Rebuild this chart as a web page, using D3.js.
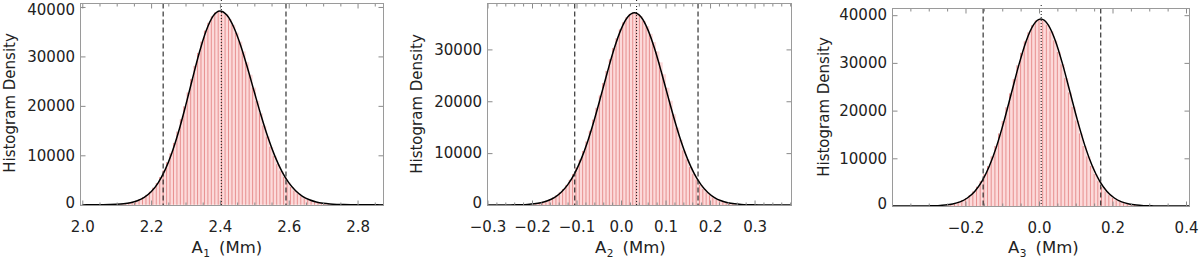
<!DOCTYPE html>
<html><head><meta charset="utf-8">
<script src="https://cdn.jsdelivr.net/npm/d3@7"></script>
<style>
html,body{margin:0;padding:0;background:#fff;overflow:hidden;}
svg{display:block;font-family:"DejaVu Sans",sans-serif;}
</style></head><body>
<svg id="chart" width="1200" height="257"></svg>
<script>
// ---------- Panel 1 : A1 ----------
const a1CurveX = [2.00,2.02,2.04,2.06,2.08,2.10,2.12,2.14,2.16,2.18,2.20,2.22,2.24,2.26,2.28,2.30,2.32,2.34,2.36,2.38,2.40,2.42,2.44,2.46,2.48,2.50,2.52,2.54,2.56,2.58,2.60,2.62,2.64,2.66,2.68,2.70,2.72,2.74,2.76,2.78,2.80,2.82,2.84,2.86,2.88];
const a1CurveY = [1,2,6,16,39,89,196,406,800,1490,2620,4390,6950,10420,14810,19940,25430,30730,35180,38150,39200,38360,35940,32250,27700,22790,17950,13540,9780,6760,4480,2840,1720,1000,557,297,151,74,35,15,7,3,1,0,0];
const a1BinX = [2.10,2.11,2.12,2.13,2.14,2.15,2.16,2.17,2.18,2.19,2.20,2.21,2.22,2.23,2.24,2.25,2.26,2.27,2.28,2.29,2.30,2.31,2.32,2.33,2.34,2.35,2.36,2.37,2.38,2.39,2.40,2.41,2.42,2.43,2.44,2.45,2.46,2.47,2.48,2.49,2.50,2.51,2.52,2.53,2.54,2.55,2.56,2.57,2.58,2.59,2.60,2.61,2.62,2.63,2.64,2.65,2.66,2.67,2.68,2.69,2.70,2.71,2.72,2.73,2.74,2.75];
const a1BinY = [90,135,200,290,410,570,800,1100,1500,2000,2650,3450,4400,5600,6950,8600,10400,12500,14800,17300,19900,22700,25400,28100,30700,33000,35200,36800,38100,38900,39200,39000,38500,37500,36400,34800,33000,31000,28800,26300,23700,21000,18500,16000,13800,11700,9900,8200,6800,5600,4500,3600,2850,2250,1730,1320,1000,750,560,410,300,215,150,105,75,50];
const a1BinWidth = 0.01;
const a1Bounds = [2.235, 2.592];
const a1Median = [2.404];
const a1XTicks = [2.0,2.2,2.4,2.6,2.8];
const a1XTickLabels = ["2.0","2.2","2.4","2.6","2.8"];
const a1XMinor = [2.05,2.10,2.15,2.25,2.30,2.35,2.45,2.50,2.55,2.65,2.70,2.75,2.85];
const a1YTicks = [0,10000,20000,30000,40000];
const a1YTickLabels = ["0","10000","20000","30000","40000"];

// ---------- Panel 2 : A2 ----------
const a2CurveX = [-0.300,-0.285,-0.270,-0.255,-0.240,-0.225,-0.210,-0.195,-0.180,-0.165,-0.150,-0.135,-0.120,-0.105,-0.090,-0.075,-0.060,-0.045,-0.030,-0.015,0.000,0.015,0.030,0.045,0.060,0.075,0.090,0.105,0.120,0.135,0.150,0.165,0.180,0.195,0.210,0.225,0.240,0.255,0.270,0.285,0.300,0.315,0.330,0.345,0.360,0.375,0.390];
const a2CurveY = [1,2,4,11,25,55,115,231,445,818,1440,2420,3880,5960,8740,12260,16450,21080,25830,30250,33860,36230,37060,36230,33860,30250,25830,21080,16450,12260,8740,5960,3880,2420,1440,818,445,231,115,55,25,11,4,2,1,0,0];
const a2BinX = [-0.1950,-0.1875,-0.1800,-0.1725,-0.1650,-0.1575,-0.1500,-0.1425,-0.1350,-0.1275,-0.1200,-0.1125,-0.1050,-0.0975,-0.0900,-0.0825,-0.0750,-0.0675,-0.0600,-0.0525,-0.0450,-0.0375,-0.0300,-0.0225,-0.0150,-0.0075,0.0000,0.0075,0.0150,0.0225,0.0300,0.0375,0.0450,0.0525,0.0600,0.0675,0.0750,0.0825,0.0900,0.0975,0.1050,0.1125,0.1200,0.1275,0.1350,0.1425,0.1500,0.1575,0.1650,0.1725,0.1800,0.1875,0.1950,0.2025,0.2100,0.2175,0.2250,0.2325,0.2400,0.2475,0.2550];
const a2BinY = [235,330,450,610,820,1090,1440,1880,2420,3080,3880,4850,5960,7250,8740,10400,12250,14300,16450,18750,21100,23500,25850,28100,30250,32150,33850,35200,36200,36850,37050,36900,36400,35500,34500,33000,31400,29600,27500,25200,22600,20100,17500,14900,12600,10500,8800,7300,5950,4850,3880,3080,2420,1880,1440,1090,820,610,445,320,230];
const a2BinWidth = 0.0075;
const a2Bounds = [-0.104, 0.173];
const a2Median = [0.035];
const a2XTicks = [-0.3,-0.2,-0.1,0.0,0.1,0.2,0.3];
const a2XTickLabels = ["\u22120.3","\u22120.2","\u22120.1","0.0","0.1","0.2","0.3"];
const a2XMinor = [-0.28,-0.26,-0.24,-0.22,-0.18,-0.16,-0.14,-0.12,-0.08,-0.06,-0.04,-0.02,0.02,0.04,0.06,0.08,0.12,0.14,0.16,0.18,0.22,0.24,0.26,0.28,0.32,0.34,0.36,0.38];
const a2YTicks = [0,10000,20000,30000];
const a2YTickLabels = ["0","10000","20000","30000"];

// ---------- Panel 3 : A3 ----------
const a3CurveX = [-0.415,-0.395,-0.375,-0.355,-0.335,-0.315,-0.295,-0.275,-0.255,-0.235,-0.215,-0.195,-0.175,-0.155,-0.135,-0.115,-0.095,-0.075,-0.055,-0.035,-0.015,0.005,0.025,0.045,0.065,0.085,0.105,0.125,0.145,0.165,0.185,0.205,0.225,0.245,0.265,0.285,0.305,0.325,0.345,0.365,0.385,0.405,0.425];
const a3CurveY = [0,0,0,1,4,12,33,82,191,420,868,1680,3060,5220,8380,12610,17840,23680,29530,34560,37980,39200,37980,34560,29530,23680,17840,12610,8380,5220,3060,1680,868,420,191,82,33,12,4,1,0,0,0];
const a3BinX = [-0.245,-0.235,-0.225,-0.215,-0.205,-0.195,-0.185,-0.175,-0.165,-0.155,-0.145,-0.135,-0.125,-0.115,-0.105,-0.095,-0.085,-0.075,-0.065,-0.055,-0.045,-0.035,-0.025,-0.015,-0.005,0.005,0.015,0.025,0.035,0.045,0.055,0.065,0.075,0.085,0.095,0.105,0.115,0.125,0.135,0.145,0.155,0.165,0.175,0.185,0.195,0.205,0.215,0.225,0.235,0.245,0.255,0.265];
const a3BinY = [290,420,610,870,1220,1680,2280,3060,4050,5220,6700,8380,10400,12600,15200,17800,20700,23600,26600,29500,32100,34500,36400,37900,38900,39200,38900,38000,36600,34700,32300,29700,26800,23800,20800,17900,15200,12600,10400,8400,6700,5200,4000,3050,2280,1680,1210,870,610,420,285,190];
const a3BinWidth = 0.01;
const a3Bounds = [-0.152, 0.168];
const a3Median = [0.006];
const a3XTicks = [-0.2,0.0,0.2,0.4];
const a3XTickLabels = ["\u22120.2","0.0","0.2","0.4"];
const a3XMinor = [-0.35,-0.30,-0.25,-0.15,-0.10,-0.05,0.05,0.10,0.15,0.25,0.30,0.35];
const a3YTicks = [0,10000,20000,30000,40000];
const a3YTickLabels = ["0","10000","20000","30000","40000"];

const yTitle = "Histogram Density";
const xTitleSubs = ["1","2","3"];
const xTitleUnit = "(Mm)";

// ---------- drawing ----------
const svg = d3.select("#chart");
const FRAME = "#9a9a9a", TICK = "#8a8a8a", TXT = "#222";

const panels = [
  {id:1, curveX:a1CurveX, curveY:a1CurveY, binX:a1BinX, binY:a1BinY, bw:a1BinWidth, bounds:a1Bounds, median:a1Median,
   xTicks:a1XTicks, xLabels:a1XTickLabels, xMinor:a1XMinor, yTicks:a1YTicks, yLabels:a1YTickLabels, sub:xTitleSubs[0],
   xDomain:[1.9948,2.8754], yDomain:[-150,40700], left:80.5, right:383.5, top:3.5, bottom:205.5,
   yTitleX:14.5, yTitleY:103, xTitleX:191.5},
  {id:2, curveX:a2CurveX, curveY:a2CurveY, binX:a2BinX, binY:a2BinY, bw:a2BinWidth, bounds:a2Bounds, median:a2Median,
   xTicks:a2XTicks, xLabels:a2XTickLabels, xMinor:a2XMinor, yTicks:a2YTicks, yLabels:a2YTickLabels, sub:xTitleSubs[1],
   xDomain:[-0.3,0.383], yDomain:[-100,38850], left:487.5, right:791.5, top:3.5, bottom:205.5,
   yTitleX:421.5, yTitleY:104, xTitleX:595},
  {id:3, curveX:a3CurveX, curveY:a3CurveY, binX:a3BinX, binY:a3BinY, bw:a3BinWidth, bounds:a3Bounds, median:a3Median,
   xTicks:a3XTicks, xLabels:a3XTickLabels, xMinor:a3XMinor, yTicks:a3YTicks, yLabels:a3YTickLabels, sub:xTitleSubs[2],
   xDomain:[-0.3986,0.4095], yDomain:[-100,41400], left:892.5, right:1189.5, top:8.5, bottom:206.5,
   yTitleX:829, yTitleY:107, xTitleX:1008}
];

panels.forEach(p => {
  const x = d3.scaleLinear().domain(p.xDomain).range([p.left, p.right]);
  const y = d3.scaleLinear().domain(p.yDomain).range([p.bottom, p.top]);
  const g = svg.append("g");
  const clipId = "clip" + p.id;
  svg.append("clipPath").attr("id", clipId).append("rect")
    .attr("x", p.left).attr("y", p.top).attr("width", p.right - p.left).attr("height", p.bottom - p.top);

  const bins = d3.zip(p.binX, p.binY);
  const plot = g.append("g").attr("clip-path", `url(#${clipId})`);
  plot.append("g").selectAll("rect").data(bins).join("rect")
    .attr("x", d => x(d[0] - p.bw / 2))
    .attr("width", d => x(d[0] + p.bw / 2) - x(d[0] - p.bw / 2))
    .attr("y", d => y(d[1]))
    .attr("height", d => y(0) - y(d[1]))
    .attr("fill", "#fcdada");
  plot.append("g").selectAll("line").data(bins).join("line")
    .attr("x1", d => x(d[0] - p.bw / 2)).attr("x2", d => x(d[0] - p.bw / 2))
    .attr("y1", y(0)).attr("y2", d => y(d[1]))
    .attr("stroke", "#e48686").attr("stroke-width", 0.9);

  // bounds (dashed) and median (dotted)
  g.append("g").selectAll("line").data(p.bounds).join("line")
    .attr("x1", d => x(d)).attr("x2", d => x(d))
    .attr("y1", p.top).attr("y2", p.bottom)
    .attr("stroke", "#222").attr("stroke-width", 1.1).attr("stroke-dasharray", "5,3");
  g.append("g").selectAll("line").data(p.median).join("line")
    .attr("x1", d => x(d)).attr("x2", d => x(d))
    .attr("y1", p.top - 3.5).attr("y2", p.bottom)
    .attr("stroke", "#111").attr("stroke-width", 1).attr("stroke-dasharray", "1,2");

  // fitted curve
  const line = d3.line().x(d => x(d[0])).y(d => y(d[1])).curve(d3.curveMonotoneX);
  plot.append("path").datum(d3.zip(p.curveX, p.curveY))
    .attr("d", line).attr("fill", "none").attr("stroke", "#000").attr("stroke-width", 1.5);

  // axes (inward ticks on all four sides)
  const styleAxis = sel => {
    sel.select(".domain").remove();
    sel.selectAll(".tick line").attr("stroke", TICK);
    sel.selectAll("text").attr("fill", TXT).style("font-size", "15px").style("font-family", '"DejaVu Sans",sans-serif');
  };
  const inRange = v => v >= Math.min(...p.xDomain) - 0.005 && v <= Math.max(...p.xDomain);
  const xT = p.xTicks.filter(inRange);
  const xLab = p.xTicks.map((t, i) => [t, p.xLabels[i]]);
  g.append("g").attr("transform", `translate(0,${p.bottom})`)
    .call(d3.axisBottom(x).tickValues(xT).tickSize(-5).tickPadding(16.3)
      .tickFormat(t => (xLab.find(e => e[0] === t) || [0, ""])[1]))
    .call(styleAxis);
  g.append("g").attr("transform", `translate(0,${p.bottom})`)
    .call(d3.axisBottom(x).tickValues(p.xMinor).tickSize(-3).tickFormat(""))
    .call(styleAxis);
  g.append("g").attr("transform", `translate(0,${p.top})`)
    .call(d3.axisTop(x).tickValues(xT).tickSize(-5).tickFormat(""))
    .call(styleAxis);
  g.append("g").attr("transform", `translate(0,${p.top})`)
    .call(d3.axisTop(x).tickValues(p.xMinor).tickSize(-3).tickFormat(""))
    .call(styleAxis);
  const yLab = p.yTicks.map((t, i) => [t, p.yLabels[i]]);
  const yAx = g.append("g").attr("transform", `translate(${p.left},0)`)
    .call(d3.axisLeft(y).tickValues(p.yTicks).tickSize(-5).tickPadding(5.5)
      .tickFormat(t => (yLab.find(e => e[0] === t) || [0, ""])[1]))
    .call(styleAxis);
  // keep labels inside the picture: nudge the top label down, zero label up as in the reference
  yAx.selectAll(".tick").each(function(t) {
    const py = y(t);
    const txt = d3.select(this).select("text");
    if (py < 10) txt.attr("y", 14 - 4.8 - py);
    if (t === 0) txt.attr("y", -2.5);
  });
  g.append("g").attr("transform", `translate(${p.right},0)`)
    .call(d3.axisRight(y).tickValues(p.yTicks).tickSize(-5).tickFormat(""))
    .call(styleAxis);

  // frame
  g.append("rect").attr("x", p.left).attr("y", p.top)
    .attr("width", p.right - p.left).attr("height", p.bottom - p.top)
    .attr("fill", "none").attr("stroke", FRAME).attr("stroke-width", 1);

  // titles
  g.append("text")
    .attr("transform", `translate(${p.yTitleX},${p.yTitleY}) rotate(-90)`)
    .attr("text-anchor", "middle").attr("fill", TXT)
    .style("font-size", "15px").text(yTitle);
  const xt = g.append("text").attr("x", p.xTitleX).attr("y", 253)
    .attr("fill", TXT).style("font-size", "16.5px");
  xt.append("tspan").text("A");
  xt.append("tspan").attr("dy", 3.5).attr("dx", 0.5).style("font-size", "10.5px").text(p.sub);
  xt.append("tspan").attr("dy", -3.5).attr("dx", 9).text(xTitleUnit);
});
</script>
</body></html>
